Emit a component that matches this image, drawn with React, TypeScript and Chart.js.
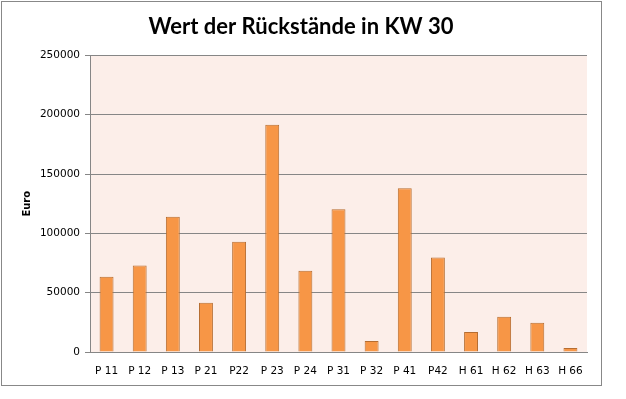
import React, { useEffect, useRef } from "react";
import { Chart, registerables } from "chart.js";

Chart.register(...registerables);

const categories = ["P 11", "P 12", "P 13", "P 21", "P22", "P 23", "P 24", "P 31", "P 32", "P 41", "P42", "H 61", "H 62", "H 63", "H 66"];
const values = [63500, 73000, 114000, 41500, 93000, 191500, 68500, 120300, 9300, 138000, 79600, 16900, 29700, 24600, 3400];
const yTicks = [0, 50000, 100000, 150000, 200000, 250000];
const titleText = "Wert der Rückstände in KW 30";
const yTitle = "Euro";

const plotBg = {
  id: "plotBg",
  beforeDraw(chart: any) {
    const { ctx, chartArea } = chart;
    ctx.save();
    ctx.fillStyle = "#FCEEE9";
    ctx.fillRect(chartArea.left, chartArea.top, chartArea.right - chartArea.left, chartArea.bottom - chartArea.top);
    ctx.restore();
  },
};

export default function App() {
  const ref = useRef<HTMLCanvasElement | null>(null);
  useEffect(() => {
    if (!ref.current) return;
    const chart = new Chart(ref.current, {
      type: "bar",
      data: {
        labels: categories,
        datasets: [
          {
            data: values,
            backgroundColor: "#F79646",
            borderColor: "#B66D31",
            borderWidth: 1,
            barPercentage: 0.42,
            categoryPercentage: 1,
          },
        ],
      },
      plugins: [plotBg],
      options: {
        responsive: false,
        animation: false,
        devicePixelRatio: 1,
        layout: { padding: { left: 0, right: 24, top: 0, bottom: 0 } },
        plugins: {
          legend: { display: false },
          tooltip: { enabled: false },
          title: {
            display: true,
            text: titleText,
            color: "#000",
            font: { family: "Lato", size: 22, weight: "bold" },
            padding: { top: 14, bottom: 15 },
          },
        },
        scales: {
          x: {
            grid: { display: false },
            border: { display: true, color: "#868686", width: 1 },
            ticks: {
              color: "#000",
              font: { family: "DejaVu Sans", size: 10.5 },
              autoSkip: false,
              maxRotation: 0,
              minRotation: 0,
              padding: 5,
            },
            afterFit(scale: any) {
              scale.height = 47;
            },
          },
          y: {
            min: 0,
            max: 250000,
            afterBuildTicks(scale: any) {
              scale.ticks = yTicks.map((v) => ({ value: v }));
            },
            grid: { color: "#868686", lineWidth: 1, tickLength: 5, drawTicks: true },
            border: { display: true, color: "#868686", width: 1 },
            ticks: {
              color: "#000",
              font: { family: "DejaVu Sans", size: 10.5 },
              padding: 5,
              callback: (v: any) => String(v),
            },
            title: {
              display: true,
              text: yTitle,
              color: "#000",
              font: { family: "DejaVu Sans", size: 10, weight: "bold" },
              padding: { top: 21, bottom: 0 },
            },
            afterFit(scale: any) {
              scale.width = 90;
            },
          },
          yRight: {
            type: "linear",
            position: "right",
            display: true,
            grid: { display: false, drawTicks: false },
            border: { display: false },
            ticks: { display: false },
            afterFit(scale: any) {
              scale.width = 15;
            },
          },
        },
      },
    });
    return () => chart.destroy();
  }, []);
  return (
    <div style={{ position: "absolute", left: 0, top: 0, width: 626, height: 399, background: "#fff" }}>
      <canvas ref={ref} width={626} height={399} style={{ position: "absolute", left: 0, top: 0 }} />
      <div
        style={{
          position: "absolute",
          left: 1,
          top: 1,
          width: 601,
          height: 385,
          boxSizing: "border-box",
          border: "1px solid #888888",
          pointerEvents: "none",
        }}
      />
    </div>
  );
}
